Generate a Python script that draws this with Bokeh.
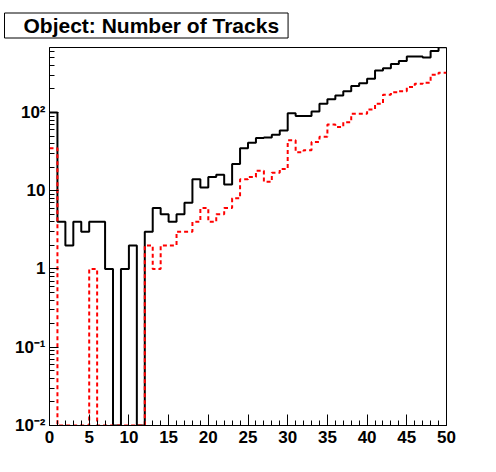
import numpy as np
from bokeh.plotting import figure
from bokeh.models import Range1d, FixedTicker, Title
from bokeh.embed import file_html
from bokeh.resources import INLINE

# ---- data ----
bin_edges = list(range(0, 51))
tracks_black = [100, 4, 2, 4, 3, 4, 4, 1, 0, 1,
                2, 0, 3, 6, 5, 4, 5, 7, 14, 11,
                15, 16, 12, 22, 35, 41, 47, 48, 52, 59,
                98, 90, 90, 103, 129, 147, 165, 187, 218, 236,
                269, 344, 368, 415, 455, 520, 520, 505, 610, 680]
tracks_red = [35, 0, 0, 0, 0, 1, 0, 0, 0, 0,
              0, 0, 2, 1, 2, 2, 3, 3, 4, 6,
              4, 5, 6, 8, 14, 15, 18, 13, 17, 19,
              44, 31, 33, 42, 49, 70, 65, 75, 96, 96,
              109, 129, 168, 181, 187, 211, 232, 240, 303, 322]
x_ticks = list(range(0, 51, 5))
y_ticks = [0.01, 0.1, 1, 10, 100]
y_tick_labels = ["10\u207b\u00b2", "10\u207b\u00b9", "1", "10", "10\u00b2"]
title_text = "Object: Number of Tracks"

YMIN, YMAX = 0.01, 676
FONT = "Liberation Sans"

W, H = 490, 468
BL, BR, BT, BB = 49, 44, 47, 43
p = figure(width=W, height=H, output_backend="svg", toolbar_location=None,
           y_axis_type="log",
           x_range=Range1d(0, 50), y_range=Range1d(YMIN, YMAX),
           min_border_left=BL, min_border_right=BR,
           min_border_top=BT, min_border_bottom=BB)

p.title = Title(text=title_text, align="left", offset=4 - BL, standoff=19,
                text_font=FONT, text_font_size="21px", text_font_style="bold",
                text_color="black",
                border_line_color="black", border_line_width=1,
                background_fill_color="white",
                padding=dict(left=19, right=9, top=1, bottom=1))

p.background_fill_color = "white"
p.border_fill_color = "white"
p.outline_line_color = "black"
p.outline_line_width = 1
p.grid.visible = False

def clip(vals):
    v = np.asarray(vals, dtype=float)
    return np.where(v > 0, v, YMIN)

yb = list(clip(tracks_black)) + [clip(tracks_black)[-1]]
yr = list(clip(tracks_red)) + [clip(tracks_red)[-1]]

p.step(x=bin_edges, y=yb, mode="after", line_color="black", line_width=2)
p.step(x=bin_edges, y=yr, mode="after", line_color="red", line_width=2,
       line_dash="4 3")

# x axis
xa = p.below[0]
xa.ticker = FixedTicker(ticks=x_ticks, minor_ticks=bin_edges)
xa.major_tick_in = 11
xa.major_tick_out = 0
xa.minor_tick_in = 5
xa.minor_tick_out = 0
xa.major_label_standoff = 5

# y axis
ya = p.left[0]
minor = [m * 10.0 ** e for e in range(-2, 3) for m in range(2, 10) if m * 10.0 ** e < YMAX]
ya.ticker = FixedTicker(ticks=y_ticks, minor_ticks=minor)
ya.major_label_overrides = dict(zip(y_ticks, y_tick_labels))
ya.major_tick_in = 9
ya.major_tick_out = 0
ya.minor_tick_in = 5
ya.minor_tick_out = 0
ya.major_label_standoff = 4

for ax in (xa, ya):
    ax.axis_line_color = "black"
    ax.major_tick_line_color = "black"
    ax.minor_tick_line_color = "black"
    ax.major_label_text_font = FONT
    ax.major_label_text_font_style = "bold"
    ax.major_label_text_font_size = "17px"
    ax.major_label_text_color = "black"

open("out.html", "w").write(file_html(p, INLINE))
